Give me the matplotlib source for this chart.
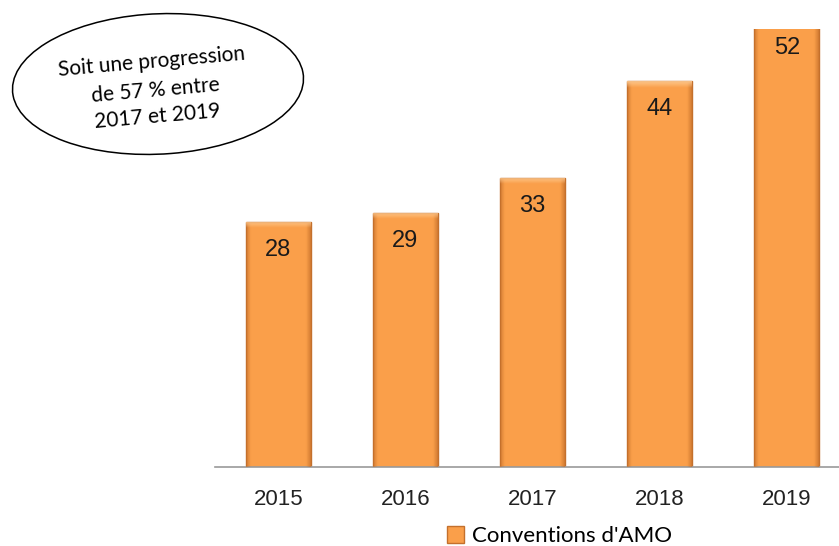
import matplotlib
matplotlib.use("Agg")
import numpy as np
import matplotlib.pyplot as plt
from matplotlib.patches import Ellipse, Patch

# data
years = ["2015", "2016", "2017", "2018", "2019"]
conventions = [28, 29, 33, 44, 52]
legend_label = "Conventions d'AMO"
note_lines = ["Soit une progression", "de 57 % entre", "2017 et 2019"]

BAR_COLOR = "#FA9F4A"
EDGE_COLOR = "#C4702C"
Y_TOP = 50.0

fig = plt.figure(figsize=(8.39, 5.46), dpi=100)
ax = fig.add_axes([0.256, 0.145, 0.744, 0.802])

x = list(range(len(years)))
bars = ax.bar(x, conventions, width=0.51, color=BAR_COLOR,
              edgecolor=EDGE_COLOR, linewidth=1.0, zorder=2)

# bevel look: darker sides
shade = np.ones((2, 64, 4))
prof = np.linspace(-1, 1, 64)
dark = np.clip((np.abs(prof) - 0.86) / 0.14, 0, 1)
shade[..., 0] = 0.78
shade[..., 1] = 0.44
shade[..., 2] = 0.17
shade[..., 3] = dark[None, :] * 0.7

# light strip along the top of each bar
top = np.ones((16, 2, 4))
top[..., 0] = 1.0
top[..., 1] = 0.80
top[..., 2] = 0.58
top[..., 3] = np.linspace(0.9, 0.0, 16)[:, None]

for b in bars:
    x0, w, h = b.get_x(), b.get_width(), b.get_height()
    hv = min(h, Y_TOP)
    im = ax.imshow(shade, extent=(x0, x0 + w, 0, hv), aspect="auto", zorder=3,
                   interpolation="bilinear")
    im.set_clip_path(b)
    if h <= Y_TOP:
        im2 = ax.imshow(top, extent=(x0, x0 + w, h - 0.7, h), aspect="auto", zorder=3,
                        interpolation="bilinear")
        im2.set_clip_path(b)

for xi, v in zip(x, conventions):
    ax.annotate(str(v), (xi, min(v, Y_TOP)), xytext=(0, -28 if v <= Y_TOP else -19),
                textcoords="offset pixels", ha="center", va="center",
                fontsize=17, family=["Liberation Sans", "DejaVu Sans"], color="#1a1a1a",
                zorder=4)

ax.set_xlim(-0.5, 4.41)
ax.set_ylim(0, Y_TOP)
ax.set_xticks(x)
ax.set_xticklabels(years, fontsize=16, family="Liberation Sans", color="#222222")
ax.tick_params(axis="x", length=0, pad=16)
ax.set_yticks([])
for side in ["top", "right", "left"]:
    ax.spines[side].set_visible(False)
ax.spines["bottom"].set_color("#9a9a9a")
ax.spines["bottom"].set_linewidth(1.2)

leg = fig.legend(handles=[Patch(facecolor=BAR_COLOR, edgecolor=EDGE_COLOR, label=legend_label)],
                 loc="center", bbox_to_anchor=(0.667, 0.018), frameon=False,
                 prop={"family": "Lato", "size": 16}, handlelength=0.75, handleheight=0.75,
                 handletextpad=0.35, borderaxespad=0)

# annotation ellipse
ell = Ellipse((158 / 839, 1 - 84 / 546), width=292 / 839, height=140 / 546, angle=7,
              transform=fig.transFigure, facecolor="white", edgecolor="black", linewidth=1.1)
fig.patches.append(ell)
ys = [62, 90, 117]
xs = [152, 156, 157]
for txt, xx, yy in zip(note_lines, xs, ys):
    fig.text(xx / 839, 1 - yy / 546, txt, ha="center", va="center", rotation=5,
             fontsize=15, family=["Lato", "DejaVu Sans"], rotation_mode="anchor")

fig.savefig("out.png", dpi=100)
